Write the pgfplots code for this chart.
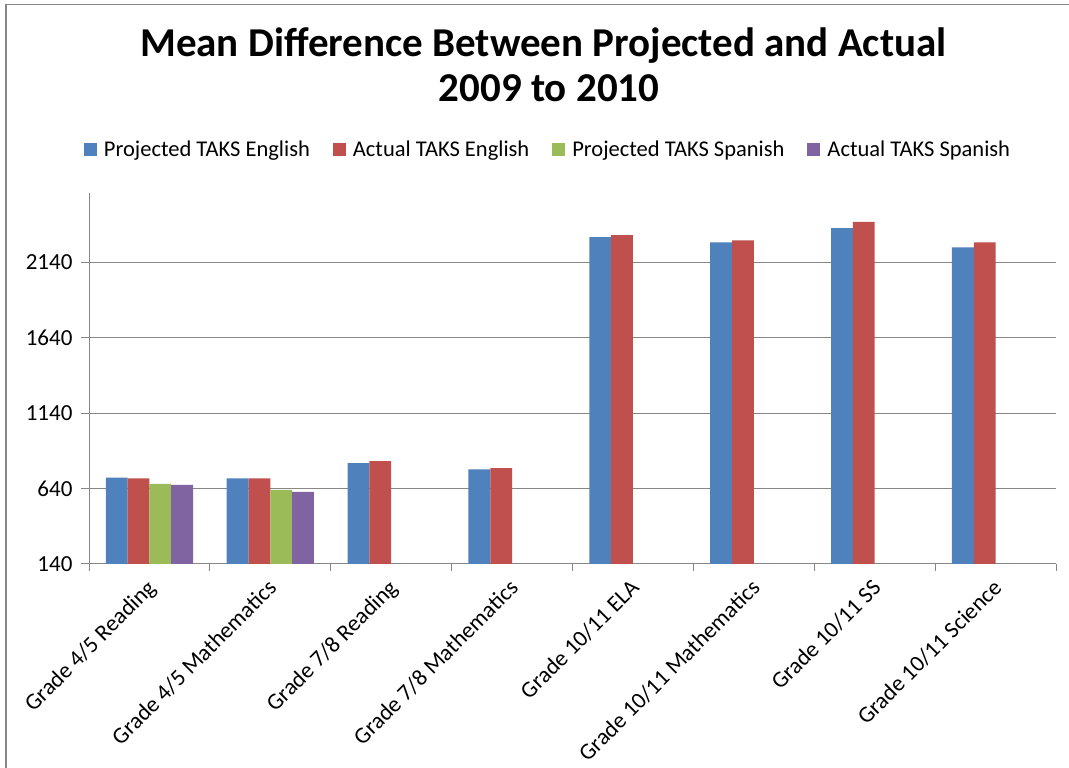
\documentclass[border=0pt]{standalone}
\usepackage{fontspec}
\setmainfont{Carlito}
\usepackage{pgfplots}
\pgfplotsset{compat=1.18}
\definecolor{sBlue}{HTML}{4F81BD}
\definecolor{sRed}{HTML}{C0504D}
\definecolor{sGreen}{HTML}{9BBB59}
\definecolor{sPurple}{HTML}{8064A2}
\definecolor{gridgray}{HTML}{878787}
\definecolor{bordergray}{HTML}{868686}
\begin{document}
\begin{tikzpicture}[x=1pt,y=1pt]
\useasboundingbox (0,0) rectangle (1069,768);
\fill[white] (0,0) rectangle (1069,768);
\draw[line width=1.5pt, color=bordergray] (6,0) -- (6,763.5) -- (1069,763.5);
\node[font={\fontsize{41}{48}\selectfont\bfseries}, anchor=base, inner sep=0pt] at (543.5,711) {Mean Difference Between Projected and Actual};
\node[font={\fontsize{41}{48}\selectfont\bfseries}, anchor=base, inner sep=0pt] at (549,666) {2009 to 2010};
\begin{axis}[
  at={(89pt,204pt)}, anchor=south west,
  scale only axis, width=967pt, height=371pt,
  ybar=0pt, bar width=21.8pt,
  xmin=-0.5, xmax=7.5,
  ymin=140, ymax=2600,
  ytick={140,640,1140,1640,2140},
  xtick={0,...,7},
  xticklabels={Grade 4/5 Reading, Grade 4/5 Mathematics, Grade 7/8 Reading, Grade 7/8 Mathematics, Grade 10/11 ELA, Grade 10/11 Mathematics, Grade 10/11 SS, Grade 10/11 Science},
  minor xtick={-0.5,0.5,...,7.5},
  major x tick style={draw=none},
  minor x tick style={draw=gridgray, line width=1pt},
  major y tick style={draw=gridgray, line width=1pt},
  tick align=outside,
  major tick length=8pt, minor tick length=7pt,
  axis x line*=bottom, axis y line*=left,
  axis line style={-, draw=gridgray, line width=1pt},
  ymajorgrids, grid style={draw=gridgray, line width=1pt},
  tick label style={font=\fontsize{23}{27}\selectfont},
  /pgf/number format/assume math mode=true,
  /pgf/number format/set thousands separator={},
  yticklabel style={xshift=-5pt},
  xticklabel style={xshift=-4pt, yshift=-3pt, rotate=45, anchor=north east, inner sep=2pt},
  legend columns=4,
  legend style={at={(0.4747,1.117)}, anchor=center, draw=none, fill=none,
    font=\fontsize{22.5}{27}\selectfont,
    /tikz/every odd column/.append style={column sep=5pt},
    /tikz/every even column/.append style={column sep=21pt}},
  legend image code/.code={\fill[#1] (0pt,-6.5pt) rectangle (13pt,6.5pt);},
]
\addplot[fill=sBlue, draw=none] coordinates {(0,713) (1,707) (2,809) (3,767) (4,2308) (5,2272) (6,2367) (7,2239)};
\addplot[fill=sRed, draw=none] coordinates {(0,707) (1,707) (2,822) (3,775) (4,2321) (5,2285) (6,2409) (7,2272)};
\addplot[fill=sGreen, draw=none] coordinates {(0,671) (1,632)};
\addplot[fill=sPurple, draw=none] coordinates {(0,665) (1,618)};
\legend{Projected TAKS English, Actual TAKS English, Projected TAKS Spanish, Actual TAKS Spanish}
\end{axis}
\end{tikzpicture}
\end{document}
